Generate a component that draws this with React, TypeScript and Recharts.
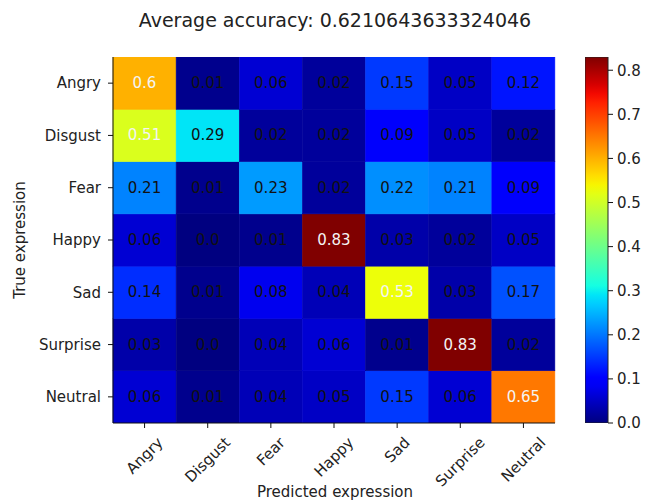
import React from 'react';
import { BarChart, Bar, XAxis, YAxis } from 'recharts';

const predictedLabels = ['Angry', 'Disgust', 'Fear', 'Happy', 'Sad', 'Surprise', 'Neutral'];
const trueLabels = ['Angry', 'Disgust', 'Fear', 'Happy', 'Sad', 'Surprise', 'Neutral'];

const angryRow = [0.6, 0.01, 0.06, 0.02, 0.15, 0.05, 0.12];
const disgustRow = [0.51, 0.29, 0.02, 0.02, 0.09, 0.05, 0.02];
const fearRow = [0.21, 0.01, 0.23, 0.02, 0.22, 0.21, 0.09];
const happyRow = [0.06, 0.0, 0.01, 0.83, 0.03, 0.02, 0.05];
const sadRow = [0.14, 0.01, 0.08, 0.04, 0.53, 0.03, 0.17];
const surpriseRow = [0.03, 0.0, 0.04, 0.06, 0.01, 0.83, 0.02];
const neutralRow = [0.06, 0.01, 0.04, 0.05, 0.15, 0.06, 0.65];
const matrixRows = [angryRow, disgustRow, fearRow, happyRow, sadRow, surpriseRow, neutralRow];

const colorbarTicks = [0, 0.1, 0.2, 0.3, 0.4, 0.5, 0.6, 0.7, 0.8];
const titleText = 'Average accuracy: 0.6210643633324046';
const xTitle = 'Predicted expression';
const yTitle = 'True expression';
const vmin = 0;
const vmax = 0.83;

const FONT = '"DejaVu Sans", Verdana, sans-serif';
const FS = 15;
const TEXT = '#222';

const RED = [[0, 0], [0.35, 0], [0.66, 1], [0.89, 1], [1, 0.5]];
const GREEN = [[0, 0], [0.125, 0], [0.375, 1], [0.64, 1], [0.91, 0], [1, 0]];
const BLUE = [[0, 0.5], [0.11, 1], [0.34, 1], [0.65, 0], [1, 0]];

function interp(pts: number[][], t: number) {
  for (let i = 1; i < pts.length; i++) {
    if (t <= pts[i][0]) {
      const [x0, y0] = pts[i - 1];
      const [x1, y1] = pts[i];
      return y0 + ((t - x0) / (x1 - x0)) * (y1 - y0);
    }
  }
  return pts[pts.length - 1][1];
}

function jet(t: number) {
  const c = Math.max(0, Math.min(1, t));
  const r = Math.round(interp(RED, c) * 255);
  const g = Math.round(interp(GREEN, c) * 255);
  const b = Math.round(interp(BLUE, c) * 255);
  return `rgb(${r},${g},${b})`;
}

const norm = (v: number) => (v - vmin) / (vmax - vmin);
const fmt = (v: number) => (Number.isInteger(v) ? v.toFixed(1) : String(v));

let ctx: CanvasRenderingContext2D | null = null;
function textWidth(s: string, font: string) {
  if (!ctx) ctx = document.createElement('canvas').getContext('2d');
  if (!ctx) return s.length * 9;
  ctx.font = font;
  return ctx.measureText(s).width;
}

const data = predictedLabels.map((p, j) => {
  const o: any = { pred: p };
  trueLabels.forEach((t, i) => {
    o[t] = matrixRows[i][j];
  });
  return o;
});

const colorbarData = [{ name: 'scale', v: vmax }];

const XTick = (props: any) => {
  const { x, y, payload } = props;
  const s = String(payload.value);
  const w = textWidth(s, `${FS}px "DejaVu Sans"`);
  const half = ((w + FS * 0.75) * Math.SQRT1_2) / 2;
  const cy = y + half;
  return (
    <text
      x={x}
      y={cy}
      textAnchor="middle"
      dominantBaseline="central"
      transform={`rotate(-45 ${x} ${cy})`}
      fontSize={FS}
      fontFamily={FONT}
      fill={TEXT}
    >
      {s}
    </text>
  );
};

const makeShape = (rowName: string) => (props: any) => {
  const { x, y, width, height, payload } = props;
  const v = payload[rowName];
  const fill = jet(norm(v));
  const light = v > vmax / 2;
  return (
    <g>
      <rect x={x} y={y} width={width} height={height} fill={fill} stroke={fill} strokeWidth={0.6} />
      <text
        x={x + width / 2}
        y={y + height / 2}
        textAnchor="middle"
        dominantBaseline="central"
        fontSize={FS}
        fontFamily={FONT}
        fill={light ? '#f4f4f4' : '#111'}
      >
        {fmt(v)}
      </text>
    </g>
  );
};

const gradientStops = Array.from({ length: 41 }, (_, k) => k / 40);

export default function App() {
  const n = trueLabels.length;
  const yTicks = trueLabels.map((_, i) => i + 0.5);
  return (
    <div style={{ position: 'absolute', left: 0, top: 0, width: 646, height: 501, background: '#fff', fontFamily: FONT }}>
      <svg width={0} height={0} style={{ position: 'absolute' }}>
        <defs>
          <linearGradient id="jetGrad" x1="0" y1="1" x2="0" y2="0">
            {gradientStops.map((t) => (
              <stop key={t} offset={t} stopColor={jet(t)} />
            ))}
          </linearGradient>
        </defs>
      </svg>
      <div style={{ position: 'absolute', left: 0, top: 0 }}>
        <BarChart
          width={646}
          height={501}
          data={data}
          margin={{ top: 57, right: 91, bottom: 0, left: 0 }}
          barCategoryGap={0}
          barGap={0}
        >
          <XAxis
            dataKey="pred"
            height={78}
            interval={0}
            tick={<XTick />}
            tickSize={5}
            tickMargin={8}
            stroke="#111"
            tickLine={{ stroke: '#111' }}
          />
          <XAxis xAxisId="top" orientation="top" dataKey="pred" height={0} tick={false} tickLine={false} stroke="#111" />
          <YAxis
            type="number"
            domain={[0, n]}
            ticks={yTicks}
            interval={0}
            allowDataOverflow
            width={113}
            tickFormatter={(v: number) => trueLabels[n - 1 - Math.floor(v)]}
            tick={{ fontSize: FS, fontFamily: FONT, fill: TEXT }}
            tickSize={5}
            tickMargin={7}
            stroke="#111"
          />
          <YAxis yAxisId="right" orientation="right" type="number" domain={[0, n]} width={0} tick={false} tickLine={false} stroke="#111" />
          {trueLabels
            .slice()
            .reverse()
            .map((rowName) => (
              <Bar
                key={rowName}
                dataKey={() => 1}
                stackId="m"
                isAnimationActive={false}
                shape={makeShape(rowName)}
              />
            ))}
        </BarChart>
      </div>
      <div style={{ position: 'absolute', left: 585, top: 0 }}>
        <BarChart
          width={61}
          height={501}
          data={colorbarData}
          margin={{ top: 57, right: 0, bottom: 78, left: 0 }}
          barCategoryGap={0}
        >
          <XAxis dataKey="name" hide />
          <YAxis
            orientation="right"
            type="number"
            domain={[vmin, vmax]}
            ticks={colorbarTicks}
            interval={0}
            allowDataOverflow
            width={38}
            axisLine={false}
            tickFormatter={(v: number) => v.toFixed(1)}
            tick={{ fontSize: FS, fontFamily: FONT, fill: TEXT }}
            tickSize={5}
            tickMargin={4}
            tickLine={{ stroke: '#111' }}
          />
          <Bar dataKey="v" fill="url(#jetGrad)" stroke="#222" strokeWidth={1} isAnimationActive={false} />
        </BarChart>
      </div>
      <div style={{ position: 'absolute', left: 0, width: 670, top: 8, textAlign: 'center', fontSize: 19, color: TEXT, lineHeight: '24px', whiteSpace: 'nowrap' }}>
        {titleText}
      </div>
      <div style={{ position: 'absolute', left: 0, width: 670, top: 482, textAlign: 'center', fontSize: FS, color: TEXT, lineHeight: '20px', whiteSpace: 'nowrap' }}>
        {xTitle}
      </div>
      <div
        style={{
          position: 'absolute',
          left: 20 - 100,
          top: 240 - 10,
          width: 200,
          height: 20,
          lineHeight: '20px',
          textAlign: 'center',
          fontSize: FS,
          color: TEXT,
          whiteSpace: 'nowrap',
          transform: 'rotate(-90deg)',
        }}
      >
        {yTitle}
      </div>
    </div>
  );
}
